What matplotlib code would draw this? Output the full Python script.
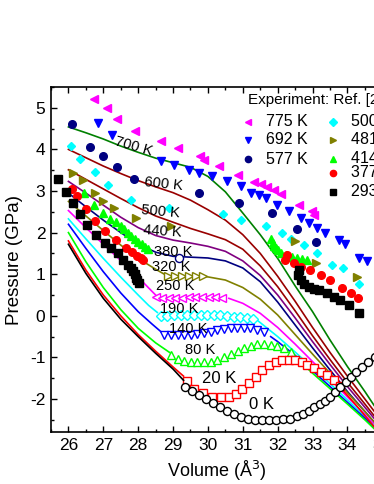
import matplotlib
matplotlib.use("Agg")
import matplotlib.pyplot as plt
from matplotlib.ticker import MultipleLocator

plt.rcParams['font.family'] = ['Liberation Sans', 'DejaVu Sans']
plt.rcParams['axes.unicode_minus'] = False

# ---------------- theory curves (lines) ----------------
V_hi = [26, 26.5, 27, 27.5, 28, 28.5, 29, 29.5, 30, 30.5, 31, 31.5, 32, 32.5, 33, 33.5, 34, 34.5, 35]
T_700 = [4.54, 4.40, 4.25, 4.08, 3.93, 3.79, 3.68, 3.57, 3.35, 2.98, 2.47, 1.95, 1.38, 0.72, 0.10, -0.58, -1.22, -1.82, -2.45]
T_600 = [4.00, 3.80, 3.60, 3.42, 3.25, 3.10, 2.96, 2.78, 2.55, 2.30, 1.95, 1.50, 0.95, 0.35, -0.28, -0.88, -1.45, -2.00, -2.55]
T_500 = [3.51, 3.28, 3.05, 2.82, 2.60, 2.40, 2.25, 2.10, 1.97, 1.83, 1.60, 1.20, 0.70, 0.12, -0.48, -1.05, -1.60, -2.12, -2.65]
T_440 = [3.23, 2.95, 2.66, 2.37, 2.12, 1.93, 1.82, 1.75, 1.67, 1.55, 1.32, 0.97, 0.50, -0.05, -0.62, -1.17, -1.70, -2.20, -2.70]
T_380 = [2.95, 2.62, 2.30, 2.00, 1.72, 1.53, 1.43, 1.41, 1.39, 1.32, 1.15, 0.82, 0.33, -0.22, -0.77, -1.30, -1.82, -2.30, -2.78]
V_380_open = [29.16]
T_380_open = [1.40]

V_320_l = [26, 26.5, 27, 27.5, 28, 28.5, 28.75]
T_320_l = [2.75, 2.40, 2.05, 1.70, 1.38, 1.12, 1.00]
V_320_m = [28.85, 29.05, 29.25, 29.45, 29.65, 29.85]
T_320_m = [0.96, 0.96, 0.96, 0.96, 0.96, 0.95]
V_320_r = [29.97, 30.5, 31, 31.5, 32, 32.5, 33, 33.5, 34, 34.5, 35]
T_320_r = [0.94, 0.86, 0.68, 0.40, 0.02, -0.45, -0.92, -1.38, -1.85, -2.30, -2.78]

V_250_l = [26, 26.5, 27, 27.5, 28, 28.3, 28.5]
T_250_l = [2.53, 2.12, 1.72, 1.33, 0.93, 0.67, 0.50]
V_250_m = [28.5, 28.69, 28.88, 29.07, 29.26, 29.45, 29.64, 29.83, 30.02, 30.21, 30.4]
T_250_m = [0.45, 0.44, 0.44, 0.44, 0.44, 0.45, 0.45, 0.45, 0.45, 0.45, 0.44]
V_250_r = [30.6, 31, 31.5, 32, 32.5, 33, 33.5, 34, 34.5, 35]
T_250_r = [0.42, 0.30, 0.06, -0.28, -0.68, -1.10, -1.52, -1.95, -2.37, -2.82]

V_190_l = [26, 26.5, 27, 27.5, 28, 28.3, 28.55]
T_190_l = [2.33, 1.85, 1.38, 0.93, 0.50, 0.25, 0.08]
V_190_m = [28.65, 28.84, 29.03, 29.22, 29.41, 29.6, 29.79, 29.98, 30.17, 30.36, 30.55, 30.74, 30.93, 31.12, 31.3]
T_190_m = [0.00, 0.00, 0.01, 0.02, 0.02, 0.03, 0.03, 0.03, 0.02, 0.01, 0.00, -0.02, -0.04, -0.06, -0.08]
V_190_r = [31.45, 32, 32.5, 33, 33.5, 34, 34.5, 35]
T_190_r = [-0.13, -0.50, -0.87, -1.25, -1.63, -2.02, -2.42, -2.85]

V_140_l = [26, 26.5, 27, 27.5, 28, 28.4, 28.65]
T_140_l = [2.20, 1.62, 1.06, 0.55, 0.10, -0.20, -0.38]
V_140_m = [28.75, 28.94, 29.13, 29.32, 29.51, 29.7, 29.89, 30.08, 30.27, 30.46, 30.65, 30.84, 31.03, 31.22, 31.41, 31.6]
T_140_m = [-0.45, -0.46, -0.46, -0.46, -0.45, -0.43, -0.41, -0.38, -0.35, -0.32, -0.30, -0.29, -0.29, -0.30, -0.33, -0.38]
V_140_r = [31.8, 32, 32.5, 33, 33.5, 34, 34.5, 35]
T_140_r = [-0.50, -0.62, -0.95, -1.32, -1.70, -2.08, -2.46, -2.88]

V_80_l = [26, 26.5, 27, 27.5, 28, 28.5, 28.9]
T_80_l = [2.00, 1.30, 0.68, 0.15, -0.30, -0.65, -0.88]
V_80_m = [28.94, 29.13, 29.32, 29.51, 29.7, 29.89, 30.08, 30.27, 30.46, 30.66, 30.85, 31.04, 31.23, 31.42, 31.61, 31.8, 31.99, 32.18, 32.37]
T_80_m = [-0.94, -1.04, -1.08, -1.10, -1.12, -1.11, -1.10, -1.06, -1.00, -0.92, -0.84, -0.77, -0.73, -0.68, -0.68, -0.69, -0.72, -0.78, -0.86]
V_80_r = [32.45, 33, 33.5, 34, 34.5, 35]
T_80_r = [-0.95, -1.38, -1.75, -2.12, -2.50, -2.90]

V_20_l = [26, 26.5, 27, 27.5, 28, 28.5, 29, 29.3]
T_20_l = [1.80, 1.10, 0.50, 0.00, -0.45, -0.85, -1.23, -1.45]
V_20_m = [29.39, 29.61, 29.85, 30.13, 30.37, 30.61, 30.8, 30.99, 31.18, 31.37, 31.56, 31.75, 31.94, 32.13, 32.32, 32.51, 32.7, 32.85, 33.04, 33.23, 33.42, 33.61, 33.8]
T_20_m = [-1.56, -1.76, -1.86, -1.94, -1.96, -1.94, -1.88, -1.76, -1.62, -1.46, -1.30, -1.18, -1.10, -1.06, -1.06, -1.07, -1.10, -1.18, -1.26, -1.34, -1.42, -1.54, -1.68]
V_20_r = [33.88, 34.2, 34.5, 35]
T_20_r = [-1.80, -2.10, -2.40, -2.90]

V_0_l = [26, 26.5, 27, 27.5, 28, 28.5, 29, 29.3]
T_0_l = [1.72, 1.02, 0.42, -0.08, -0.50, -0.90, -1.28, -1.55]
V_0_m = [29.34, 29.54, 29.75, 29.95, 30.15, 30.35, 30.55, 30.75, 30.95, 31.15, 31.35, 31.55, 31.75, 31.95, 32.15, 32.35, 32.55, 32.72, 32.89, 33.05, 33.2, 33.35, 33.5, 33.65, 33.8, 33.95, 34.1, 34.25, 34.42, 34.6, 34.8]
T_0_m = [-1.70, -1.80, -1.90, -2.00, -2.10, -2.20, -2.30, -2.37, -2.43, -2.47, -2.50, -2.50, -2.50, -2.50, -2.49, -2.47, -2.42, -2.36, -2.28, -2.20, -2.12, -2.04, -1.95, -1.84, -1.72, -1.58, -1.46, -1.35, -1.24, -1.12, -1.00]

# ---------------- experiment (Ref.) ----------------
V_775 = [26.73, 27.1, 27.39, 27.9, 28.66, 29.15, 29.76, 29.9, 30.32, 30.85, 31.32, 31.51, 31.7, 31.89, 32.09, 32.61, 32.99, 33.04]
P_775 = [5.22, 4.99, 4.74, 4.45, 4.19, 4.03, 3.83, 3.75, 3.59, 3.39, 3.21, 3.16, 3.09, 3.02, 2.94, 2.67, 2.51, 2.43]
V_692 = [26.85, 27.25, 28.66, 29.04, 29.47, 29.75, 30.13, 30.56, 30.96, 31.23, 31.47, 31.66, 31.99, 32.32, 32.66, 32.89, 33.13, 33.37, 33.75, 33.94, 34.32, 34.56]
P_692 = [4.63, 4.35, 3.72, 3.63, 3.51, 3.43, 3.35, 3.23, 3.11, 2.96, 2.90, 2.83, 2.67, 2.53, 2.36, 2.24, 2.11, 1.99, 1.83, 1.72, 1.39, 1.31]
V_577 = [26.1, 26.63, 26.99, 27.39, 27.89, 29.75, 30.89, 31.85, 32.56, 33.09]
P_577 = [4.60, 4.05, 3.85, 3.57, 3.29, 2.95, 2.71, 2.47, 2.08, 1.77]
V_500 = [26.07, 26.34, 26.77, 27.13, 27.8, 28.89, 30.42, 30.94, 31.66, 32.13, 32.37, 32.76, 33.13, 33.56, 33.87, 34.32]
P_500 = [4.09, 3.77, 3.45, 3.15, 2.79, 2.60, 2.44, 2.31, 2.15, 1.99, 1.85, 1.71, 1.51, 1.23, 1.15, 0.77]
V_481 = [26.13, 26.42, 26.75, 26.99, 27.32, 27.94, 28.94, 32.51, 33.09, 34.27]
P_481 = [3.43, 3.27, 2.95, 2.75, 2.59, 2.35, 2.16, 1.79, 1.27, 0.94]
V_414 = [26.45, 26.73, 26.99, 27.2, 27.35, 27.5, 27.6, 27.7, 27.8, 27.9, 28.0, 28.1, 28.2, 28.27,
         31.82, 31.86, 31.9, 31.95, 32.02, 32.1, 32.25, 32.4, 32.55, 32.7, 32.85]
P_414 = [2.95, 2.67, 2.47, 2.33, 2.25, 2.15, 2.08, 2.00, 1.93, 1.85, 1.78, 1.72, 1.65, 1.60,
         1.85, 1.75, 1.68, 1.62, 1.58, 1.52, 1.45, 1.42, 1.40, 1.37, 1.35]
V_377 = [26.11, 26.25, 26.49, 26.75, 27.04, 27.37, 27.64, 27.83, 27.97, 28.09, 28.15,
         32.27, 32.2, 32.47, 32.66, 32.94, 33.23, 33.51, 33.85, 34.09, 34.3]
P_377 = [3.05, 2.87, 2.56, 2.29, 2.04, 1.83, 1.64, 1.53, 1.44, 1.39, 1.35,
         1.47, 1.33, 1.27, 1.17, 1.11, 0.99, 0.87, 0.67, 0.55, 0.43]
V_293 = [25.7, 25.94, 26.13, 26.32, 26.53, 26.8, 27.04, 27.23, 27.42, 27.56, 27.7, 27.78, 27.85, 27.9, 27.95, 27.98, 28.02,
         32.61, 32.59, 32.66, 32.75, 32.89, 33.03, 33.18, 33.42, 33.61, 33.8, 34.04, 34.32]
P_293 = [3.29, 2.97, 2.71, 2.44, 2.19, 1.95, 1.75, 1.63, 1.51, 1.35, 1.23, 1.15, 1.08, 1.00, 0.92, 0.85, 0.78,
         1.11, 0.99, 0.87, 0.77, 0.70, 0.65, 0.61, 0.55, 0.46, 0.37, 0.26, 0.06]

curve_labels = ["700 K", "600 K", "500 K", "440 K", "380 K", "320 K", "250 K", "190 K", "140 K", "80 K", "20 K", "0 K"]
label_V = [27.87, 28.72, 28.64, 28.7, 28.99, 28.96, 29.06, 29.18, 29.42, 29.78, 30.31, 31.54]
label_P = [4.06, 3.17, 2.51, 2.04, 1.53, 1.18, 0.72, 0.16, -0.31, -0.82, -1.50, -2.14]
label_rot = [-16, -6, -5, -4, 0, 0, 0, 0, 0, 0, 0, 0]
label_size = [10.5, 10.5, 10.5, 10.5, 10.5, 10.5, 10.5, 10.5, 10.5, 10.5, 12, 12]

legend_names = ["775 K", "692 K", "577 K", "500 K", "481 K", "414 K", "377 K", "293 K"]

# ---------------- figure ----------------
W, H = 374, 484
fig = plt.figure(figsize=(W / 100, H / 100), dpi=100)
ax = fig.add_axes([51 / W, (H - 432.3) / H, 331.3 / W, 345.3 / H])
ax.set_xlim(25.5, 35)
ax.set_ylim(-2.8, 5.5)

C_WINE = '#990000'
lw = 1.2
ax.plot(V_hi, T_700, color='#008000', lw=lw)
ax.plot(V_hi, T_600, color=C_WINE, lw=lw)
ax.plot(V_hi, T_500, color=C_WINE, lw=lw)
ax.plot(V_hi, T_440, color='#800080', lw=lw)
ax.plot(V_hi, T_380, color='#000080', lw=lw)
ms_o = 5.8
ax.plot(V_380_open, T_380_open, ls='none', marker='o', ms=ms_o, mfc='white', mec='#000080', mew=1)

def seg(vl, pl, vm, pm, vr, pr, color, marker):
    ax.plot(vl, pl, color=color, lw=lw)
    if vr is not None:
        ax.plot(vr, pr, color=color, lw=lw)
    ax.plot(vm, pm, ls='none', marker=marker, ms=ms_o if marker != 'D' else ms_o - 0.6,
            mfc='white', mec=color, mew=1)

seg(V_320_l, T_320_l, V_320_m, T_320_m, V_320_r, T_320_r, '#808000', '>')
seg(V_250_l, T_250_l, V_250_m, T_250_m, V_250_r, T_250_r, '#FF00FF', '<')
seg(V_190_l, T_190_l, V_190_m, T_190_m, V_190_r, T_190_r, '#00FFFF', 'D')
seg(V_140_l, T_140_l, V_140_m, T_140_m, V_140_r, T_140_r, '#0000FF', 'v')
seg(V_80_l, T_80_l, V_80_m, T_80_m, V_80_r, T_80_r, '#00FF00', '^')
seg(V_20_l, T_20_l, V_20_m, T_20_m, V_20_r, T_20_r, '#FF0000', 's')
seg(V_0_l, T_0_l, V_0_m, T_0_m, None, None, '#000000', 'o')

ms_e = 5.5
exp = [(V_775, P_775, '#FF00FF', '<'), (V_692, P_692, '#0000FF', 'v'), (V_577, P_577, '#000080', 'o'),
       (V_500, P_500, '#00FFFF', 'D'), (V_481, P_481, '#808000', '>'), (V_414, P_414, '#00FF00', '^'),
       (V_377, P_377, '#FF0000', 'o'), (V_293, P_293, '#000000', 's')]
for v, p, c, m in exp:
    ax.plot(v, p, ls='none', marker=m, ms=ms_e if m != 'D' else ms_e - 1, color=c, mec=c, clip_on=False)

for t, v, p, r, s in zip(curve_labels, label_V, label_P, label_rot, label_size):
    ax.text(v, p, t, fontsize=s, ha='center', va='center', rotation=r)

ax.xaxis.set_major_locator(MultipleLocator(1))
ax.xaxis.set_minor_locator(MultipleLocator(0.5))
ax.yaxis.set_major_locator(MultipleLocator(1))
ax.yaxis.set_minor_locator(MultipleLocator(0.5))
ax.tick_params(which='both', direction='in', top=True, right=True, labelsize=12.5, width=1)
ax.tick_params(which='major', length=4, pad=4)
ax.tick_params(which='minor', length=2.2)
for s in ax.spines.values():
    s.set_linewidth(1.2)
ax.set_xlabel('Volume (Å$^3$)', fontsize=13, labelpad=4.5)
ax.set_ylabel('Pressure (GPa)', fontsize=13.5, labelpad=5)

# legend drawn manually (figure pixel coordinates, partly cut by the figure edge)
def fx(x):
    return x / W
def fy(y):
    return 1 - y / H
fig.text(fx(248), fy(100), 'Experiment: Ref. [2', fontsize=11, ha='left', va='center')
leg_pos = [(248, 121.7), (248, 140), (248, 159.3), (332.7, 121.7), (332.7, 140), (332.7, 158.5), (332.7, 172.5), (332.7, 192)]
for (x, y), name, (_, _, c, m) in zip(leg_pos, legend_names, exp):
    fig.lines.append(plt.Line2D([fx(x)], [fy(y)], transform=fig.transFigure, ls='none', marker=m,
                                ms=4.5, color=c, mec=c))
    fig.text(fx(x + 18), fy(y), name, fontsize=11.5, ha='left', va='center')

fig.savefig('out.png', dpi=100)
